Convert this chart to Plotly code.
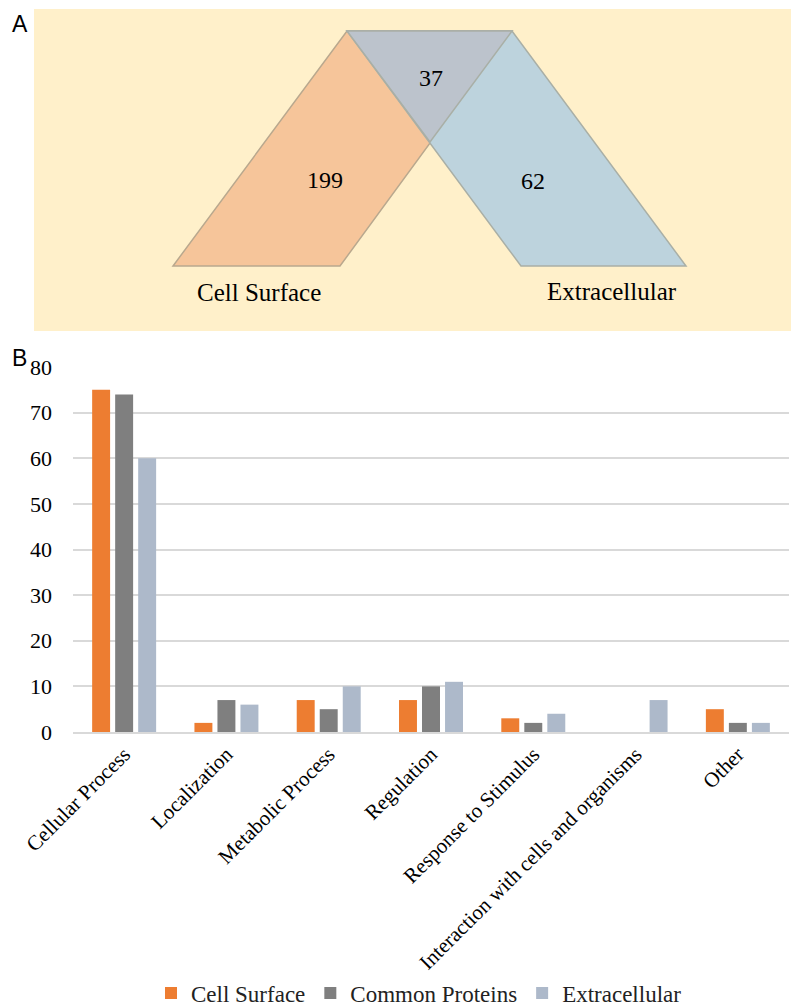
import plotly.graph_objects as go

# ---------- Panel A data (Venn-like diagram) ----------
venn_sets = ["Cell Surface", "Extracellular"]
venn_counts = [199, 37, 62]  # cell-surface only, common, extracellular only

# ---------- Panel B data ----------
categories = ["Cellular Process", "Localization", "Metabolic Process", "Regulation",
              "Response to Stimulus", "Interaction with cells and organisms", "Other"]
cell_surface = [75, 2, 7, 7, 3, 0, 5]
common_proteins = [74, 7, 5, 10, 2, 0, 2]
extracellular = [60, 6, 10, 11, 4, 7, 2]
series_names = ["Cell Surface", "Common Proteins", "Extracellular"]
series_colors = ["#ED7D31", "#7F7F7F", "#ADB9CA"]

# page size and the 8px body margin of the html page
W, H = 799, 1007
OFF = 8
FW, FH = W - OFF, H - OFF
SERIF = "Liberation Serif, Times New Roman, serif"
SANS = "Liberation Sans, Arial, sans-serif"

fig = go.Figure()

for name, vals, col in zip(series_names, [cell_surface, common_proteins, extracellular], series_colors):
    fig.add_trace(go.Bar(x=categories, y=vals, name=name, marker_color=col,
                         marker_line_width=0, xaxis="x", yaxis="y"))

# Panel A geometry in an auxiliary pixel-like coordinate system (axis x2/y2)
orange_poly = [(173, 266), (340, 266), (512, 31), (347, 31)]
blue_poly = [(347, 31), (512, 31), (686, 266), (521, 266)]
inter_poly = [(347, 31), (512, 31), (430, 142)]

def path(poly):
    return "M " + " L ".join(f"{x},{y}" for x, y in poly) + " Z"

def fx(px):
    return (px - OFF) / FW

def fy(py):
    return (FH - (py - OFF)) / FH

shapes = [
    dict(type="rect", xref="x2", yref="y2", x0=34, x1=799, y0=9, y1=331,
         fillcolor="#FFF0CA", line_width=0, layer="below"),
    dict(type="path", xref="x2", yref="y2", path=path(orange_poly),
         fillcolor="#F6C59A", line=dict(color="#B9A88E", width=1.5), layer="below"),
    dict(type="path", xref="x2", yref="y2", path=path(blue_poly),
         fillcolor="#BDD3DD", line=dict(color="#A9AFA6", width=1.5), layer="below"),
    dict(type="path", xref="x2", yref="y2", path=path(inter_poly),
         fillcolor="#BCC3CC", line=dict(color="#A9AFA6", width=1.5), layer="below"),
]

annotations = [
    dict(xref="x2", yref="y2", x=325, y=180, text=str(venn_counts[0]), showarrow=False,
         font=dict(family=SERIF, size=24, color="black")),
    dict(xref="x2", yref="y2", x=431, y=78, text=str(venn_counts[1]), showarrow=False,
         font=dict(family=SERIF, size=24, color="black")),
    dict(xref="x2", yref="y2", x=533, y=181, text=str(venn_counts[2]), showarrow=False,
         font=dict(family=SERIF, size=24, color="black")),
    dict(xref="x2", yref="y2", x=259, y=292, text=venn_sets[0], showarrow=False,
         font=dict(family=SERIF, size=25, color="black")),
    dict(xref="x2", yref="y2", x=612, y=291, text=venn_sets[1], showarrow=False,
         font=dict(family=SERIF, size=25, color="black")),
    dict(xref="paper", yref="paper", x=fx(10), y=fy(9), text="A", showarrow=False,
         xanchor="left", yanchor="top", font=dict(family=SANS, size=23, color="black")),
    dict(xref="paper", yref="paper", x=fx(10), y=fy(358), text="B", showarrow=False,
         xanchor="left", yanchor="middle", font=dict(family=SANS, size=23, color="black")),
]

y0_px, y80_px = 732, 367
fig.update_layout(
    width=FW, height=FH,
    margin=dict(l=0, r=0, t=0, b=0, autoexpand=False),
    paper_bgcolor="white", plot_bgcolor="rgba(0,0,0,0)",
    barmode="group", bargap=0.325, bargroupgap=0.22,
    showlegend=True,
    legend=dict(orientation="h", x=fx(419), xanchor="center", y=fy(993), yanchor="middle",
                font=dict(family=SERIF, size=23, color="#222"), itemwidth=30,
                traceorder="normal", bgcolor="rgba(0,0,0,0)"),
    xaxis=dict(domain=[fx(73), fx(789)], showgrid=False, tickangle=-45, automargin=False,
               tickfont=dict(family=SERIF, size=21, color="black"),
               showline=True, linecolor="#D9D9D9", linewidth=1.5, ticks="", anchor="y"),
    yaxis=dict(domain=[fy(y0_px), fy(y80_px)], range=[0, 80], dtick=10,
               showgrid=True, gridcolor="#D9D9D9", gridwidth=1.5, zeroline=False, automargin=False,
               tickfont=dict(family=SERIF, size=22, color="black"), ticks="",
               ticklabelstandoff=20, anchor="x"),
    xaxis2=dict(domain=[0, 1], range=[OFF, W], visible=False, anchor="y2", fixedrange=True, automargin=False),
    yaxis2=dict(domain=[fy(340), 1], range=[340, OFF], visible=False, anchor="x2", fixedrange=True, automargin=False),
    shapes=shapes,
    annotations=annotations,
)

fig.write_html("out.html")
